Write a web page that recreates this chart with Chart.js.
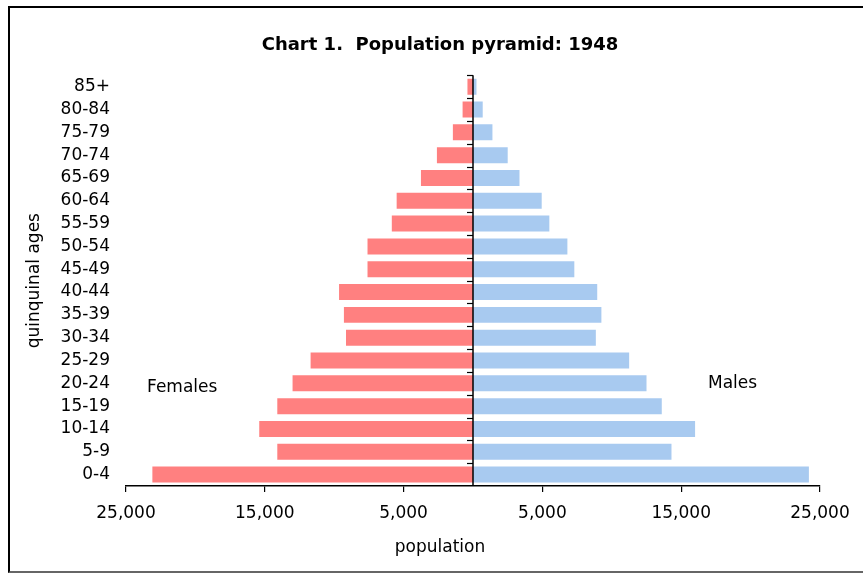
<!DOCTYPE html>
<html>
<head>
<meta charset="utf-8">
<script src="https://cdn.jsdelivr.net/npm/chart.js@4/dist/chart.umd.min.js"></script>
<style>
  html, body { margin: 0; padding: 0; background: #fff; overflow: hidden; }
  #wrap { position: relative; width: 863px; height: 573px; }
  #frame { position: absolute; left: 8px; top: 6px; width: 900px; height: 563px;
           border-left: 2px solid #000; border-top: 2px solid #000; border-bottom: 2px solid #666; }
  #c { position: absolute; left: 0; top: 0; }
</style>
</head>
<body>
<div id="wrap">
  <div id="frame"></div>
  <canvas id="c" width="863" height="573"></canvas>
</div>
<script>
// ---- data ----
const ages = ['0-4','5-9','10-14','15-19','20-24','25-29','30-34','35-39','40-44','45-49',
              '50-54','55-59','60-64','65-69','70-74','75-79','80-84','85+'];
const females = [23100, 14100, 15400, 14100, 13000, 11700, 9150, 9300, 9650, 7600,
                 7600, 5850, 5500, 3750, 2600, 1450, 750, 400];
const males   = [24200, 14300, 16000, 13600, 12500, 11250, 8850, 9250, 8950, 7300,
                 6800, 5500, 4950, 3350, 2500, 1400, 700, 250];
const tickValues = [-25000, -15000, -5000, 5000, 15000, 25000];
const seriesNames = ['Females', 'Males'];
const noteValues = [-20950, 18700];
const noteRows = [3.82, 4.0];
const titleText = 'Chart 1.  Population pyramid: 1948';
const xTitle = 'population';
const yTitle = 'quinquinal ages';

const FONT = 'DejaVu Sans';

const centerAxis = {
  id: 'centerAxis',
  afterDatasetsDraw(chart) {
    const {ctx, chartArea, scales: {x, y}} = chart;
    const x0 = x.getPixelForValue(0);
    ctx.save();
    ctx.strokeStyle = '#000';
    ctx.lineWidth = 1.5;
    ctx.beginPath();
    ctx.moveTo(x0, chartArea.top);
    ctx.lineTo(x0, chartArea.bottom);
    ctx.stroke();
    ctx.lineWidth = 1.2;
    for (let i = 0; i < ages.length; i++) {
      const yb = Math.round(y.getPixelForValue(i + 0.5)) + 0.5;
      ctx.beginPath();
      ctx.moveTo(x0 - 6, yb);
      ctx.lineTo(x0, yb);
      ctx.stroke();
    }
    // notes
    ctx.fillStyle = '#000';
    ctx.font = '17px "' + FONT + '"';
    ctx.textAlign = 'center';
    ctx.textBaseline = 'middle';
    seriesNames.forEach((n, i) => {
      ctx.fillText(n, x.getPixelForValue(noteValues[i]), y.getPixelForValue(noteRows[i]));
    });
    ctx.restore();
  }
};

new Chart(document.getElementById('c'), {
  type: 'bar',
  data: {
    labels: ages,
    datasets: [
      { label: seriesNames[0], data: females.map(v => -v), backgroundColor: 'rgb(255,128,128)', borderWidth: 0 },
      { label: seriesNames[1], data: males, backgroundColor: 'rgb(168,202,240)', borderWidth: 0 }
    ]
  },
  options: {
    indexAxis: 'y',
    responsive: false,
    animation: false,
    devicePixelRatio: 1,
    categoryPercentage: 0.7,
    barPercentage: 1.0,
    layout: { padding: { left: 17, right: 0, top: 0, bottom: 0 } },
    plugins: {
      legend: { display: false },
      tooltip: { enabled: false },
      title: {
        display: true, text: titleText, color: '#000',
        font: { family: FONT, size: 18, weight: 'bold' },
        padding: { top: 34.2, bottom: 19.5 }
      },
      subtitle: {
        display: true, text: xTitle, position: 'bottom', color: '#000',
        font: { family: FONT, size: 17 },
        padding: { top: 0, bottom: 14.8 }
      }
    },
    scales: {
      x: {
        type: 'linear', stacked: true, min: -25000, max: 25000,
        afterBuildTicks: s => { s.ticks = tickValues.map(v => ({ value: v })); },
        afterFit: s => { s.height = 51.8; s.paddingLeft = 0; s.paddingRight = 43; },
        grid: { drawOnChartArea: false, drawTicks: true, tickLength: 6, color: '#000', lineWidth: 1.2 },
        border: { display: true, color: '#000', width: 1.5 },
        ticks: {
          color: '#000', font: { family: FONT, size: 17 }, padding: 11.3,
          maxRotation: 0, autoSkip: false,
          callback: v => Math.abs(v).toLocaleString('en-US')
        }
      },
      y: {
        type: 'category', stacked: true, reverse: true,
        afterFit: s => { s.width = 109; s.paddingTop = 0; s.paddingBottom = 0; },
        grid: { display: false, drawTicks: false },
        border: { display: false },
        ticks: { color: '#000', font: { family: FONT, size: 17 }, padding: 16, autoSkip: false },
        title: {
          display: true, text: yTitle, color: '#000',
          font: { family: FONT, size: 17 }, padding: { top: 7.8, bottom: 0 }
        }
      }
    }
  },
  plugins: [centerAxis]
});
</script>
</body>
</html>
